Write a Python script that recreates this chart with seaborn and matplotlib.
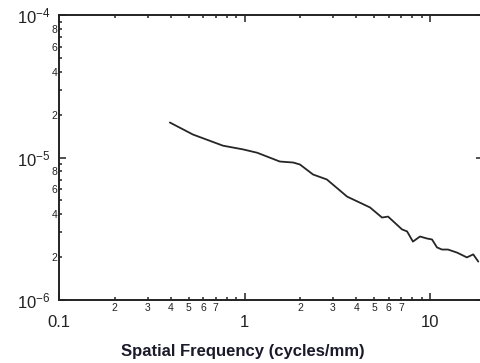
import numpy as np
import matplotlib
matplotlib.use('Agg')
import matplotlib.pyplot as plt
import matplotlib.ticker as mticker
import seaborn as sns

# Data (log-log spectrum)
freq = [0.396, 0.527, 0.766, 0.982, 1.17, 1.55, 1.83, 1.99, 2.34, 2.78,
        3.57, 4.75, 5.51, 5.94, 7.06, 7.52, 8.09, 8.83, 9.64, 10.25,
        10.9, 11.6, 12.5, 14.0, 15.8, 17.1, 18.2]
power = [1.76e-5, 1.45e-5, 1.21e-5, 1.14e-5, 1.08e-5, 9.37e-6, 9.22e-6, 8.93e-6, 7.60e-6, 7.01e-6,
         5.32e-6, 4.46e-6, 3.79e-6, 3.85e-6, 3.13e-6, 3.03e-6, 2.57e-6, 2.79e-6, 2.70e-6, 2.66e-6,
         2.34e-6, 2.26e-6, 2.26e-6, 2.15e-6, 1.99e-6, 2.09e-6, 1.86e-6]

x_major = [0.1, 1, 10]
x_major_labels = ['0.1', '1', '10']
x_minor_shown = [2, 3, 4, 5, 6, 7]
y_minor_shown = [2, 4, 6, 8]


def minor_label(shown):
    def fmt(v, pos):
        d = int(round(v / 10 ** np.floor(np.log10(v) + 1e-9)))
        return str(d) if d in shown else ''
    return mticker.FuncFormatter(fmt)


sns.set_style('ticks')
plt.rcParams['font.family'] = ['Liberation Sans', 'DejaVu Sans']
plt.rcParams['mathtext.fontset'] = 'custom'
plt.rcParams['mathtext.rm'] = 'Liberation Sans'
plt.rcParams['mathtext.it'] = 'Liberation Sans'

fig = plt.figure(figsize=(4.81, 3.63), dpi=100)
ax = fig.add_axes([59 / 481, 63 / 363, 424 / 481, 285 / 363])

sns.lineplot(x=freq, y=power, color='#262626', linewidth=1.3, ax=ax)

ax.set_xscale('log')
ax.set_yscale('log')
ax.set_xlim(0.1, 19.3)
ax.set_ylim(1e-6, 1e-4)

ax.xaxis.set_major_locator(mticker.FixedLocator(x_major))
ax.xaxis.set_major_formatter(mticker.FixedFormatter(x_major_labels))
ax.xaxis.set_minor_locator(mticker.LogLocator(base=10, subs=np.arange(2, 10)))
ax.xaxis.set_minor_formatter(minor_label(x_minor_shown))

ax.yaxis.set_major_locator(mticker.LogLocator(base=10))
ax.yaxis.set_major_formatter(mticker.LogFormatterMathtext())
ax.yaxis.set_minor_locator(mticker.LogLocator(base=10, subs=np.arange(2, 10)))
ax.yaxis.set_minor_formatter(minor_label(y_minor_shown))

ax.tick_params(which='both', direction='in', top=True, right=True, colors='#222222',
               width=1.1)
ax.tick_params(which='major', length=5, labelsize=12)
ax.tick_params(which='minor', length=2.5, labelsize=7.5)
ax.tick_params(axis='x', which='major', pad=11)
ax.tick_params(axis='x', which='minor', pad=2)
ax.tick_params(axis='y', which='major', pad=6)
ax.tick_params(axis='y', which='minor', pad=1)

for s in ax.spines.values():
    s.set_linewidth(1.4)
    s.set_color('#222222')

ax.set_xlabel('Spatial Frequency (cycles/mm)', fontsize=12, fontweight='bold',
              color='#1a1a2a')
ax.xaxis.set_label_coords(0.434, -0.155)

fig.savefig('out.png', dpi=100)
